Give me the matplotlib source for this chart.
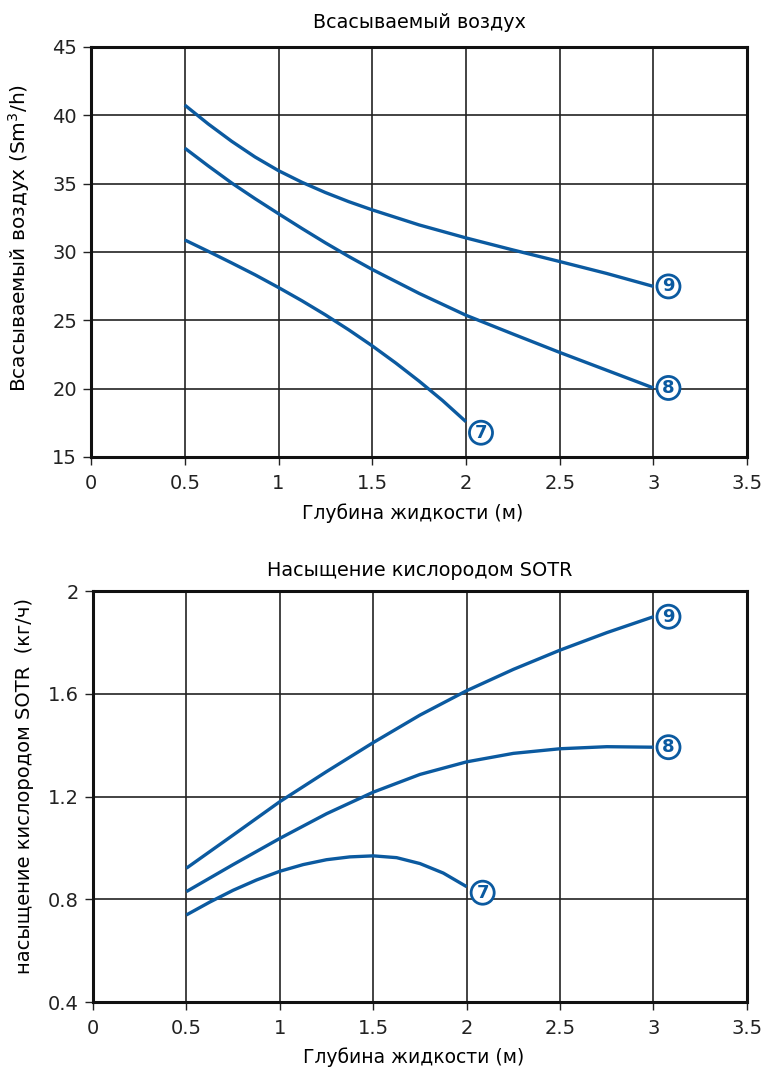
import matplotlib
matplotlib.use("Agg")
import matplotlib.pyplot as plt
from matplotlib.ticker import FormatStrFormatter

plt.rcParams['font.family'] = ['DejaVu Sans']

# глубина жидкости (м) - точки
depth_fine = [0.5, 0.625, 0.75, 0.875, 1.0, 1.125, 1.25, 1.375, 1.5, 1.75, 2.0, 2.25, 2.5, 2.75, 3.0]
depth_7 = [0.5, 0.625, 0.75, 0.875, 1.0, 1.125, 1.25, 1.375, 1.5, 1.625, 1.75, 1.875, 2.0]
depth_q = [0.5, 0.75, 1.0, 1.25, 1.5, 1.75, 2.0, 2.25, 2.5, 2.75, 3.0]

# всасываемый воздух (Sm3/h)
air_9 = [40.75, 39.37, 38.1, 36.95, 35.95, 35.1, 34.35, 33.68, 33.08, 31.98, 31.03, 30.15, 29.3, 28.43, 27.48]
air_8 = [37.6, 36.3, 35.05, 33.9, 32.8, 31.72, 30.67, 29.67, 28.72, 26.97, 25.37, 24.0, 22.65, 21.35, 20.05]
air_7 = [30.88, 30.05, 29.2, 28.33, 27.4, 26.43, 25.4, 24.3, 23.13, 21.88, 20.55, 19.13, 17.58]

# насыщение кислородом SOTR (кг/ч)
sotr_9 = [0.921, 1.05, 1.18, 1.297, 1.41, 1.517, 1.612, 1.695, 1.77, 1.838, 1.90]
sotr_8 = [0.83, 0.935, 1.037, 1.133, 1.217, 1.286, 1.335, 1.368, 1.386, 1.394, 1.392]
sotr_7 = [0.739, 0.789, 0.835, 0.875, 0.909, 0.935, 0.954, 0.965, 0.969, 0.962, 0.939, 0.902, 0.849]

x_ticks = [0, 0.5, 1, 1.5, 2, 2.5, 3, 3.5]
blue = '#0b5aa0'
grid_c = '#222222'


def style_axes(ax, yticks):
    ax.set_xlim(0, 3.5)
    ax.set_ylim(yticks[0], yticks[-1])
    ax.set_xticks(x_ticks)
    ax.set_yticks(yticks)
    ax.xaxis.set_major_formatter(FormatStrFormatter('%g'))
    ax.yaxis.set_major_formatter(FormatStrFormatter('%g'))
    ax.grid(True, color=grid_c, lw=1.2)
    ax.set_axisbelow(True)
    for s in ax.spines.values():
        s.set_linewidth(2.2)
        s.set_color('#111111')
    ax.tick_params(direction='out', length=6, width=1, labelsize=14,
                   colors='#222222')
    ax.tick_params(axis='x', pad=6)
    ax.tick_params(axis='y', pad=4)


def label(ax, x, y, txt, dx, dy):
    ax.annotate(txt, (x, y), xytext=(dx, dy), textcoords='offset pixels',
                ha='center', va='center', color=blue, fontsize=13,
                fontweight='bold',
                bbox=dict(boxstyle='circle,pad=0.14', fc='white', ec=blue, lw=2))


fig = plt.figure(figsize=(7.63, 10.75), dpi=100)

# верхний график: всасываемый воздух
ax1 = fig.add_axes([0.1193, 0.5749, 0.860, 0.3814])
ax1.plot(depth_fine, air_9, color=blue, lw=2.4, solid_capstyle='butt')
ax1.plot(depth_fine, air_8, color=blue, lw=2.4, solid_capstyle='butt')
ax1.plot(depth_7, air_7, color=blue, lw=2.4, solid_capstyle='butt')
style_axes(ax1, [15, 20, 25, 30, 35, 40, 45])
ax1.set_title('Всасываемый воздух', fontsize=13.8, pad=14)
ax1.set_xlabel('Глубина жидкости (м)', fontsize=13.5)
ax1.set_ylabel('Всасываемый воздух (Sm$^3$/h)', fontsize=14.5)
ax1.xaxis.set_label_coords(0.49, -0.112)
ax1.yaxis.set_label_coords(-0.09, 0.534)
label(ax1, depth_fine[-1], air_9[-1], '9', 15, 0)
label(ax1, depth_fine[-1], air_8[-1], '8', 15, 0)
label(ax1, depth_7[-1], air_7[-1], '7', 15, -11)

# нижний график: SOTR
ax2 = fig.add_axes([0.1219, 0.0679, 0.857, 0.3823])
ax2.plot(depth_q, sotr_9, color=blue, lw=2.4, solid_capstyle='butt')
ax2.plot(depth_q, sotr_8, color=blue, lw=2.4, solid_capstyle='butt')
ax2.plot(depth_7, sotr_7, color=blue, lw=2.4, solid_capstyle='butt')
style_axes(ax2, [0.4, 0.8, 1.2, 1.6, 2.0])
ax2.set_title('Насыщение кислородом SOTR', fontsize=13.9, pad=11)
ax2.set_xlabel('Глубина жидкости (м)', fontsize=13.5)
ax2.set_ylabel('насыщение кислородом SOTR  (кг/ч)', fontsize=14)
ax2.xaxis.set_label_coords(0.49, -0.11)
ax2.yaxis.set_label_coords(-0.09, 0.525)
label(ax2, depth_q[-1], sotr_9[-1], '9', 15, 0)
label(ax2, depth_q[-1], sotr_8[-1], '8', 15, 0)
label(ax2, depth_7[-1], sotr_7[-1], '7', 16, -6)

fig.savefig('out.png', dpi=100)
